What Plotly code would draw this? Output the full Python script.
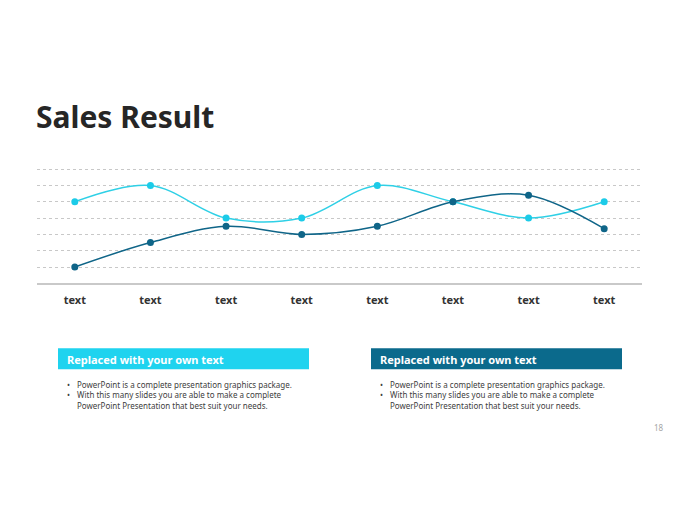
import plotly.graph_objects as go

# chart data
categories = ["text"] * 8
series_light = [5, 6, 4, 4, 6, 5, 4, 5]
series_dark = [1, 2.5, 3.5, 3, 3.5, 5, 5.4, 3.35]

title_text = "Sales Result"
box_titles = ["Replaced with your own text", "Replaced with your own text"]
bullet_lines = [
    "PowerPoint is a complete presentation graphics package.",
    "With this many slides you are able to make a complete",
    "PowerPoint Presentation that best suit your needs.",
]
page_number = "18"

LIGHT = "#2fd0e6"
LIGHT_MK = "#1ccbe8"
DARK = "#0f6588"
BOX_LIGHT = "#1fd3ef"
BOX_DARK = "#0b6a8c"
W, H = 680, 510
OFF = 8  # page body margin pushes the figure 8px right/down


def px_x(x):
    return (x - OFF) / W


def px_y(y):
    return 1 - (y - OFF) / H


x_idx = list(range(len(categories)))

fig = go.Figure()
fig.add_trace(go.Scatter(
    x=x_idx, y=series_light, mode="lines+markers",
    line=dict(color=LIGHT, width=1.5, shape="spline", smoothing=1.0),
    marker=dict(color=LIGHT_MK, size=7),
    hoverinfo="skip",
))
fig.add_trace(go.Scatter(
    x=x_idx, y=series_dark, mode="lines+markers",
    line=dict(color=DARK, width=1.5, shape="spline", smoothing=1.0),
    marker=dict(color=DARK, size=7),
    hoverinfo="skip",
))

# plot area: x 37..642 px, y baseline 283 px, one unit = 16.3 px
y_top = 7.2
fig.update_layout(
    width=W, height=H,
    margin=dict(l=0, r=0, t=0, b=0),
    paper_bgcolor="white", plot_bgcolor="white",
    showlegend=False,
    xaxis=dict(
        domain=[px_x(37), px_x(642)],
        range=[-0.5, 7.5],
        tickvals=x_idx, ticktext=["<b>%s</b>" % c for c in categories],
        tickfont=dict(family="Noto Sans", size=11, color="#333333"),
        showgrid=False, zeroline=False,
        showline=True, linecolor="#c9c9c9", linewidth=1.5,
        ticks="", ticklabelstandoff=6,
    ),
    yaxis=dict(
        domain=[px_y(283.3), px_y(283.3 - y_top * 16.3)],
        range=[0, y_top],
        tickvals=[1, 2, 3, 4, 5, 6, 7],
        showticklabels=False,
        showgrid=True, gridcolor="#c8c8c8", gridwidth=1, griddash="dot",
        zeroline=False, showline=False,
    ),
)

shapes = []
annotations = []

annotations.append(dict(
    x=px_x(34), y=px_y(116), xref="paper", yref="paper",
    xanchor="left", yanchor="middle", showarrow=False,
    text="<b>%s</b>" % title_text,
    font=dict(family="Noto Sans", size=30, color="#262626"),
))

box_lefts = [58, 371]
box_colors = [BOX_LIGHT, BOX_DARK]
for left, color, head in zip(box_lefts, box_colors, box_titles):
    shapes.append(dict(
        type="rect", xref="paper", yref="paper",
        x0=px_x(left), x1=px_x(left + 251),
        y0=px_y(369.3), y1=px_y(348.3),
        fillcolor=color, line=dict(width=0),
    ))
    annotations.append(dict(
        x=px_x(left + 7), y=px_y(359), xref="paper", yref="paper",
        xanchor="left", yanchor="middle", showarrow=False,
        text="<b>%s</b>" % head,
        font=dict(family="Noto Sans", size=11, color="white"),
    ))
    # bullets
    annotations.append(dict(
        x=px_x(left + 8), y=px_y(378), xref="paper", yref="paper",
        xanchor="left", yanchor="top", showarrow=False, borderpad=0,
        align="left", text="•<br>•",
        font=dict(family="Noto Sans", size=8, color="#404040"),
    ))
    annotations.append(dict(
        x=px_x(left + 18), y=px_y(378), xref="paper", yref="paper",
        xanchor="left", yanchor="top", showarrow=False, borderpad=0,
        align="left", text="<br>".join(bullet_lines),
        font=dict(family="Noto Sans", size=8, color="#404040"),
    ))

annotations.append(dict(
    x=px_x(658.5), y=px_y(427.5), xref="paper", yref="paper",
    xanchor="center", yanchor="middle", showarrow=False,
    text=page_number, font=dict(family="Noto Sans", size=8, color="#a6a6a6"),
))

fig.update_layout(shapes=shapes, annotations=annotations)

fig.write_html("out.html")
